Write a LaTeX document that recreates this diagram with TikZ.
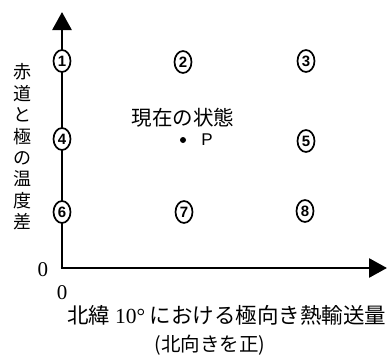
\documentclass[tikz,border=0pt]{standalone}
\usepackage{fontspec}
\newfontfamily\cjk{Noto Sans CJK JP}
\newfontfamily\lsans{Liberation Sans}
\newfontfamily\lserif{Liberation Serif}
\usetikzlibrary{arrows.meta,shapes.geometric}
\begin{document}
\begin{tikzpicture}[x=1pt,y=-1pt,
  axis/.style={line width=2.8pt,-{Triangle[length=18pt,width=19pt]}},
  num/.style={ellipse,draw,line width=1.7pt,fill=white,minimum width=17pt,minimum height=22pt,inner sep=0pt,font=\lsans\bfseries\fontsize{15}{15}\selectfont},
  jtext/.style={font=\cjk\fontsize{18}{21.4}\selectfont,inner sep=0pt},
  jbig/.style={font=\cjk\fontsize{20.5}{21.4}\selectfont,inner sep=0pt},
  zero/.style={font=\lserif\fontsize{21}{21}\selectfont,inner sep=0pt}]
\useasboundingbox (0,0) rectangle (389,356);
\coordinate (O) at (62,268);
\coordinate (ytip) at (62,12);
\coordinate (xtip) at (387,268);
\draw[axis] ([xshift=-1.4pt]O) -- (xtip);
\draw[axis] (O) -- (ytip);
\node[num] (n1) at (62,61) {1};
\node[num] (n2) at (183,62) {2};
\node[num] (n3) at (306,61) {3};
\node[num] (n4) at (62,139) {4};
\node[num] (n5) at (306,141) {5};
\node[num] (n6) at (62,212) {6};
\node[num] (n7) at (184,212) {7};
\node[num] (n8) at (305,211) {8};
\node[jbig] (state) at (183,118) {現在の状態};
\node[circle,fill=black,inner sep=0pt,minimum size=6pt] (P) at (183,140) {};
\node[font=\lsans\fontsize{17}{17}\selectfont,inner sep=0pt] (Plabel) at (207,140) {P};
\node[jtext,align=center] (ylabel) at (22,147) {赤\\道\\と\\極\\の\\温\\度\\差};
\node[zero] (z1) at (43,270) {0};
\node[zero] (z2) at (62,293) {0};
\node[font=\cjk\fontsize{21.5}{21.5}\selectfont,inner sep=0pt,anchor=west] (xlabel) at (67,315) {北緯 {\lserif 10°} における極向き熱輸送量};
\node[font=\cjk\fontsize{19.5}{19.5}\selectfont,inner sep=0pt] (xlabel2) at (210,345) {(北向きを正)};
\end{tikzpicture}
\end{document}
